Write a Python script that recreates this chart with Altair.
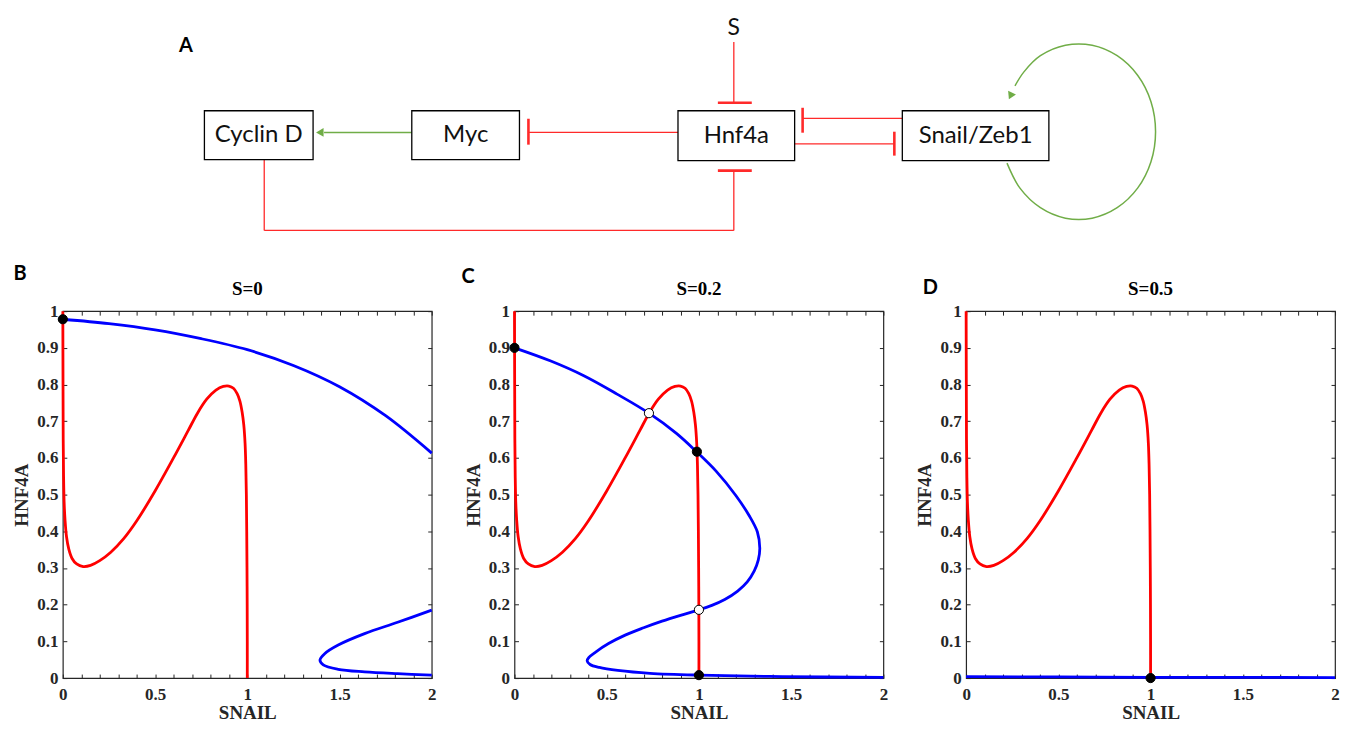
import altair as alt
import pandas as pd

# ------------------------------------------------------------------
# Phase-plane data
# ------------------------------------------------------------------
# red nullcline (identical in panels B, C, D)
red_x = [0.000, 0.001, 0.002, 0.004, 0.007, 0.012, 0.020, 0.032, 0.050, 0.075,
         0.110, 0.150, 0.200, 0.260, 0.330, 0.400, 0.500, 0.600, 0.680, 0.730,
         0.780, 0.830, 0.870, 0.900, 0.925, 0.945, 0.960, 0.972, 0.981, 0.988,
         0.992, 0.995, 0.997, 0.999, 1.000, 1.000]
red_y = [1.000, 0.800, 0.650, 0.550, 0.480, 0.430, 0.385, 0.352, 0.326, 0.311,
         0.304, 0.307, 0.320, 0.343, 0.380, 0.428, 0.510, 0.600, 0.675, 0.722,
         0.760, 0.785, 0.795, 0.796, 0.790, 0.775, 0.755, 0.725, 0.690, 0.640,
         0.580, 0.500, 0.400, 0.250, 0.100, 0.000]

# blue nullcline, S = 0 (two branches)
blueB_up_x = [0.000, 0.250, 0.500, 0.750, 1.000, 1.250, 1.500, 1.750, 2.000]
blueB_up_y = [0.978, 0.966, 0.949, 0.925, 0.895, 0.852, 0.794, 0.715, 0.613]
blueB_lo_x = [2.000, 1.815, 1.636, 1.493, 1.421, 1.394, 1.412, 1.493, 1.636, 1.815, 2.000]
blueB_lo_y = [0.185, 0.152, 0.121, 0.090, 0.067, 0.049, 0.036, 0.024, 0.017, 0.012, 0.008]

# blue nullcline, S = 0.2
blueC_x = [0.000, 0.197, 0.376, 0.556, 0.729, 0.878, 0.989, 1.093, 1.201, 1.272,
           1.317, 1.330, 1.322, 1.300, 1.262, 1.210, 1.140, 1.070, 1.000, 0.900,
           0.800, 0.700, 0.600, 0.510, 0.440, 0.405, 0.394, 0.410, 0.460, 0.560,
           0.735, 1.000, 1.452, 2.000]
blueC_y = [0.900, 0.864, 0.824, 0.774, 0.722, 0.667, 0.616, 0.564, 0.497, 0.443,
           0.398, 0.354, 0.322, 0.292, 0.262, 0.237, 0.214, 0.198, 0.186, 0.171,
           0.155, 0.137, 0.117, 0.094, 0.071, 0.057, 0.047, 0.037, 0.029, 0.021,
           0.013, 0.008, 0.004, 0.002]

# blue nullcline, S = 0.5
blueD_x = [0.0, 0.5, 1.0, 1.5, 2.0]
blueD_y = [0.004, 0.003, 0.002, 0.002, 0.001]

# steady states
stableB_x, stableB_y = [0.0], [0.978]
stableC_x, stableC_y = [0.0, 0.989, 1.0], [0.900, 0.617, 0.008]
unstableC_x, unstableC_y = [0.729, 1.0], [0.722, 0.186]
stableD_x, stableD_y = [1.0], [0.0]

panel_titles = ["S=0", "S=0.2", "S=0.5"]
x_label_ticks = [0, 0.5, 1, 1.5, 2]
x_minor_ticks = [0, 0.1, 0.2, 0.3, 0.4, 0.5, 0.6, 0.7, 0.8, 0.9, 1.0,
                 1.1, 1.2, 1.3, 1.4, 1.5, 1.6, 1.7, 1.8, 1.9, 2.0]
y_ticks = [0, 0.1, 0.2, 0.3, 0.4, 0.5, 0.6, 0.7, 0.8, 0.9, 1.0]

# ------------------------------------------------------------------
# Network diagram (panel A) - layout in page pixels
# ------------------------------------------------------------------
node_names = ["Cyclin D", "Myc", "Hnf4a", "Snail/Zeb1"]
node_x0 = [203, 411, 678, 903]
node_x1 = [312, 519, 795, 1050]
node_y0 = [110, 110, 110, 110]
node_y1 = [159, 159, 160, 160]

# red inhibition lines (x, y, x2, y2)
inh_lines = [(734, 41, 734, 102), (678, 131.7, 528, 131.7),
             (263, 159, 263, 230), (263, 230, 734, 230), (734, 230, 734, 170),
             (903, 117.7, 803, 117.7), (795, 143.3, 895, 143.3)]
inh_bars = [(718, 102, 752, 102), (528, 118, 528, 144), (718, 170, 752, 170),
            (803, 107, 803, 132), (895, 131, 895, 155)]
act_lines = [(411, 131.7, 323, 131.7)]
loop_x = [1008, 1021, 1041.5, 1066.6, 1093.4, 1118.5, 1139, 1152.4, 1157,
          1152.4, 1139, 1118.5, 1093.4, 1066.6, 1041.5, 1025, 1016]
loop_y = [162.5, 187.6, 207.2, 217.7, 217.7, 207.2, 187.6, 161.1, 131,
          100.9, 74.4, 54.8, 44.3, 44.3, 54.8, 71, 85]
arrow_x = [320, 1012]
arrow_y = [131.7, 94]
arrow_angle = [270, 205]
signal_text = ["S"]
signal_x, signal_y = [734], [27]
panel_letters = ["A", "B", "C", "D"]
letter_x = [184.5, 18, 467.5, 931]
letter_y = [45.5, 273.5, 277, 287.5]

# ------------------------------------------------------------------
SERIF = "Liberation Serif"
SANS = "Lato"
INK = "#262626"
RED = "#ff0000"
LINK_RED = "#ff2a2a"
BLUE = "#0000ff"
GREEN = "#70ad47"

PW, PH = 370, 368          # panel plot area
GAP = 83
PLOT_LEFT, PLOT_TOP = 61, 311   # page position of panel B's plot area
xs = alt.Scale(domain=[0, 2], nice=False, zero=False)
ys = alt.Scale(domain=[0, 1], nice=False, zero=False)

lab_common = dict(labelFont=SERIF, labelFontSize=17, labelFontWeight="bold",
                  labelColor=INK, titleFont=SERIF, titleFontSize=19,
                  titleFontWeight="bold", titleColor=INK, grid=False,
                  ticks=False, tickSize=0, domain=False, labelFlush=False,
                  labelOverlap=False, labelBound=False, format="~g")
ax_x_lab = alt.Axis(orient="bottom", values=x_label_ticks, labelPadding=8,
                    title="SNAIL", titlePadding=2, **lab_common)
ax_y_lab = alt.Axis(orient="left", values=y_ticks, labelPadding=5,
                    title="HNF4A", titlePadding=5, **lab_common)

tick_common = dict(labels=False, domain=False, grid=False, ticks=True,
                   tickSize=4, offset=-4, tickColor=INK, tickWidth=1, title=None)
ax_x_bot = alt.Axis(orient="bottom", values=x_minor_ticks, **tick_common)
ax_x_top = alt.Axis(orient="top", values=x_minor_ticks, **tick_common)
ax_y_left = alt.Axis(orient="left", values=y_ticks, **tick_common)
ax_y_right = alt.Axis(orient="right", values=y_ticks, **tick_common)


def panel(title, blue_branches, stable, unstable):
    red_df = pd.DataFrame({"x": red_x, "y": red_y, "i": list(range(len(red_x)))})
    rows = []
    for b, (bx, by) in enumerate(blue_branches):
        for i, (x, y) in enumerate(zip(bx, by)):
            rows.append({"x": x, "y": y, "i": i, "seg": f"b{b}"})
    blue_df = pd.DataFrame(rows)
    drows = [{"x": x, "y": y, "kind": "stable"} for x, y in zip(*stable)]
    drows += [{"x": x, "y": y, "kind": "unstable"} for x, y in zip(*unstable)]
    dot_df = pd.DataFrame(drows)

    red_layer = alt.Chart(red_df).mark_line(
        color=RED, strokeWidth=2.8, interpolate="catmull-rom"
    ).encode(
        x=alt.X("x:Q", scale=xs, axis=ax_x_lab),
        y=alt.Y("y:Q", scale=ys, axis=ax_y_lab),
        order="i:Q",
    )
    blue_layer = alt.Chart(blue_df).mark_line(
        color=BLUE, strokeWidth=2.8, interpolate="catmull-rom"
    ).encode(
        x=alt.X("x:Q", scale=xs, axis=ax_x_bot),
        y=alt.Y("y:Q", scale=ys, axis=ax_y_left),
        detail="seg:N",
        order="i:Q",
    )
    dot_layer = alt.Chart(dot_df).mark_point(
        filled=True, size=85, stroke="black", strokeWidth=1, opacity=1
    ).encode(
        x=alt.X("x:Q", scale=xs, axis=ax_x_top),
        y=alt.Y("y:Q", scale=ys, axis=ax_y_right),
        fill=alt.Fill("kind:N", scale=alt.Scale(domain=["stable", "unstable"],
                                                range=["black", "white"]),
                      legend=None),
    )
    return alt.layer(red_layer, blue_layer, dot_layer).resolve_axis(
        x="independent", y="independent"
    ).properties(
        width=PW, height=PH,
        title=alt.TitleParams(title, font=SERIF, fontSize=19, fontWeight="bold",
                              color="black", anchor="middle", offset=3),
    )


pB = panel(panel_titles[0], [(blueB_up_x, blueB_up_y), (blueB_lo_x, blueB_lo_y)],
           (stableB_x, stableB_y), ([], []))
pC = panel(panel_titles[1], [(blueC_x, blueC_y)],
           (stableC_x, stableC_y), (unstableC_x, unstableC_y))
pD = panel(panel_titles[2], [(blueD_x, blueD_y)],
           (stableD_x, stableD_y), ([], []))

# ------------------------------------------------------------------
# Diagram chart (drawn in page-pixel coordinates)
# ------------------------------------------------------------------
X0, Y0 = PLOT_LEFT, 8
V_SPACE = 5
W_TOP, H_TOP = 1200, PLOT_TOP - Y0 - V_SPACE
sx = alt.Scale(domain=[X0, X0 + W_TOP], nice=False, zero=False)
sy = alt.Scale(domain=[Y0, Y0 + H_TOP], nice=False, zero=False, reverse=True)

nodes = pd.DataFrame({"name": node_names, "x0": node_x0, "x1": node_x1,
                      "y0": node_y0, "y1": node_y1})
nodes["cx"] = (nodes.x0 + nodes.x1) / 2
nodes["cy"] = (nodes.y0 + nodes.y1) / 2


def seg_df(segs):
    return pd.DataFrame(segs, columns=["x", "y", "x2", "y2"])


def rules(df, color, width):
    return alt.Chart(df).mark_rule(color=color, strokeWidth=width).encode(
        x=alt.X("x:Q", scale=sx, axis=None), y=alt.Y("y:Q", scale=sy, axis=None),
        x2="x2:Q", y2="y2:Q")


inh_l = rules(seg_df(inh_lines), LINK_RED, 1.3)
inh_b = rules(seg_df(inh_bars), LINK_RED, 2.6)
act_l = rules(seg_df(act_lines), GREEN, 1.5)

loop = alt.Chart(pd.DataFrame({"x": loop_x, "y": loop_y, "i": range(len(loop_x))})).mark_line(
    color=GREEN, strokeWidth=1.5, interpolate="catmull-rom"
).encode(x=alt.X("x:Q", scale=sx, axis=None), y=alt.Y("y:Q", scale=sy, axis=None), order="i:Q")

arrows = alt.Chart(pd.DataFrame({"x": arrow_x, "y": arrow_y, "a": arrow_angle})).mark_point(
    shape="triangle", filled=True, color=GREEN, size=75, opacity=1
).encode(x=alt.X("x:Q", scale=sx, axis=None), y=alt.Y("y:Q", scale=sy, axis=None),
         angle=alt.Angle("a:Q", scale=None))

boxes = alt.Chart(nodes).mark_rect(fill="white", stroke="black", strokeWidth=1.3).encode(
    x=alt.X("x0:Q", scale=sx, axis=None), x2="x1:Q",
    y=alt.Y("y0:Q", scale=sy, axis=None), y2="y1:Q")
box_text = alt.Chart(nodes).mark_text(font=SANS, fontSize=24, color="#111111").encode(
    x=alt.X("cx:Q", scale=sx, axis=None), y=alt.Y("cy:Q", scale=sy, axis=None), text="name:N")
sig = alt.Chart(pd.DataFrame({"t": signal_text, "x": signal_x, "y": signal_y})).mark_text(
    font=SANS, fontSize=23, color="#111111").encode(
    x=alt.X("x:Q", scale=sx, axis=None), y=alt.Y("y:Q", scale=sy, axis=None), text="t:N")
letters = alt.Chart(pd.DataFrame({"t": panel_letters, "x": letter_x, "y": letter_y})).mark_text(
    font=SANS, fontSize=20, fontWeight="bold", color="black").encode(
    x=alt.X("x:Q", scale=sx, axis=None), y=alt.Y("y:Q", scale=sy, axis=None), text="t:N")

top = alt.layer(inh_l, inh_b, act_l, loop, arrows, boxes, box_text, sig, letters).properties(
    width=W_TOP, height=H_TOP, view=alt.ViewBackground(stroke="transparent", strokeWidth=0))

bottom = alt.hconcat(pB, pC, pD, spacing=GAP, bounds="flush")

chart = alt.vconcat(top, bottom, spacing=V_SPACE, bounds="flush").properties(
    padding={"left": 4, "top": 0, "right": 0, "bottom": 0},
    background="white",
).configure_view(stroke=INK, strokeWidth=1.2)

chart.save("out.html", embed_options={"renderer": "svg", "actions": False})
